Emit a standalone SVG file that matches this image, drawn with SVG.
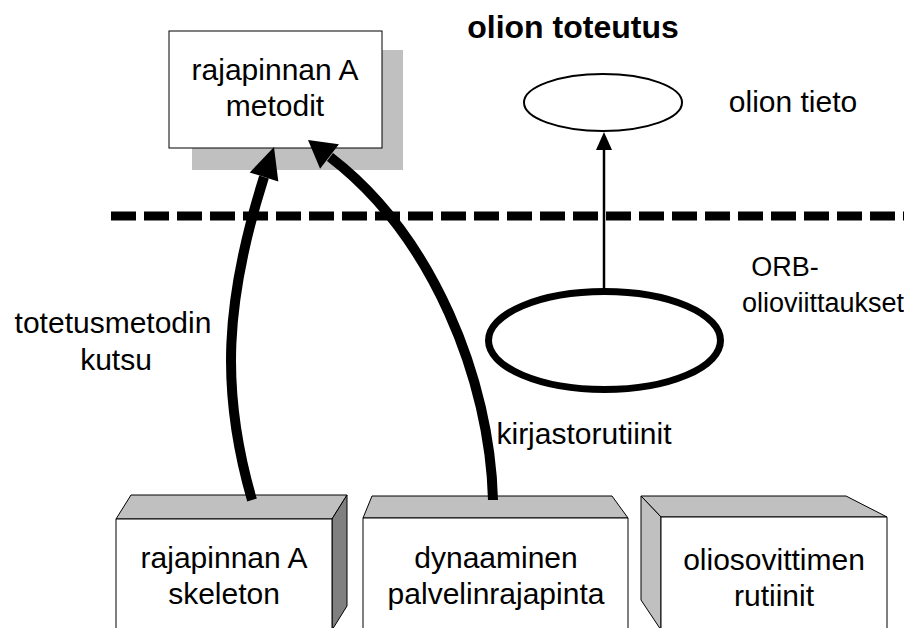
<svg xmlns="http://www.w3.org/2000/svg" width="904" height="628" viewBox="0 0 904 628">
  <style>
    text { font-family: "Liberation Sans", Arial, sans-serif; font-size: 30px; fill: #000; text-anchor: middle; }
    .title { font-weight: bold; font-size: 32px; }
    .small { font-size: 27px; }
    .face { stroke: #000; stroke-width: 1; }
    .front { fill: #fff; }
    .top { fill: #c0c0c0; }
    .side-dark { fill: #808080; }
    .side-light { fill: #c0c0c0; }
    .thick { fill: none; stroke: #000; stroke-width: 10; }
  </style>

  <rect width="904" height="628" fill="#fff"/>

  <!-- implementation boundary -->
  <line x1="111" y1="216" x2="904" y2="216" stroke="#000" stroke-width="9" stroke-dasharray="25 8"/>

  <!-- interface A methods with drop shadow -->
  <g id="methods">
    <rect x="192" y="50" width="211" height="120" fill="#c0c0c0"/>
    <rect x="169" y="31" width="213" height="117" fill="#fff" stroke="#000" stroke-width="1"/>
    <text x="275" y="80">rajapinnan A</text>
    <text x="275" y="116">metodit</text>
  </g>

  <g id="title">
    <text class="title" x="573" y="38">olion toteutus</text>
  </g>

  <g id="object-data">
    <ellipse cx="603" cy="102.5" rx="79" ry="28.5" fill="#fff" stroke="#000" stroke-width="2"/>
    <text x="793" y="112">olion tieto</text>
  </g>

  <g id="orb-references">
    <ellipse cx="604.5" cy="340.5" rx="116" ry="49" fill="none" stroke="#000" stroke-width="7"/>
    <text class="small" x="785" y="276">ORB-</text>
    <text class="small" x="823" y="312">olioviittaukset</text>
  </g>

  <!-- skeleton box -->
  <g id="skeleton">
    <polygon class="face top" points="131,495 347,495 332,519 116,519"/>
    <polygon class="face side-dark" points="332,519 347,495 347,606 332,630"/>
    <polygon class="face front" points="116,519 332,519 332,630 116,630"/>
    <text x="224" y="568">rajapinnan A</text>
    <text x="224" y="604">skeleton</text>
  </g>

  <!-- dynamic server interface box -->
  <g id="dsi">
    <polygon class="face top" points="372,496 612,496 628,518 363,518"/>
    <polygon class="face front" points="363,518 628,518 628,630 363,630"/>
    <text x="496" y="568">dynaaminen</text>
    <text x="496" y="604">palvelinrajapinta</text>
  </g>

  <!-- object adapter box -->
  <g id="adapter">
    <polygon class="face top" points="641,496 846,496 887,517 661,517"/>
    <polygon class="face side-light" points="641,496 661,517 661,630 641,600"/>
    <polygon class="face front" points="661,517 887,517 887,630 661,630"/>
    <text x="774" y="570">oliosovittimen</text>
    <text x="774" y="606">rutiinit</text>
  </g>

  <g id="labels">
    <text x="113" y="333">totetusmetodin</text>
    <text x="116" y="370">kutsu</text>
    <text x="584" y="444">kirjastorutiinit</text>
  </g>

  <g id="connectors">
    <path class="thick" d="M252,500 C220,390 225,300 264,177"/>
    <polygon points="274,147 249.7,172.5 278.3,181.5" fill="#000"/>
    <path class="thick" d="M493,500 C490,380 433,236 330,157"/>
    <polygon points="308,140 338.9,144.2 320.1,168.8" fill="#000"/>
    <line x1="604" y1="290" x2="604" y2="148" stroke="#000" stroke-width="2.5"/>
    <polygon points="604,132 596,150 612,150" fill="#000"/>
  </g>
</svg>
